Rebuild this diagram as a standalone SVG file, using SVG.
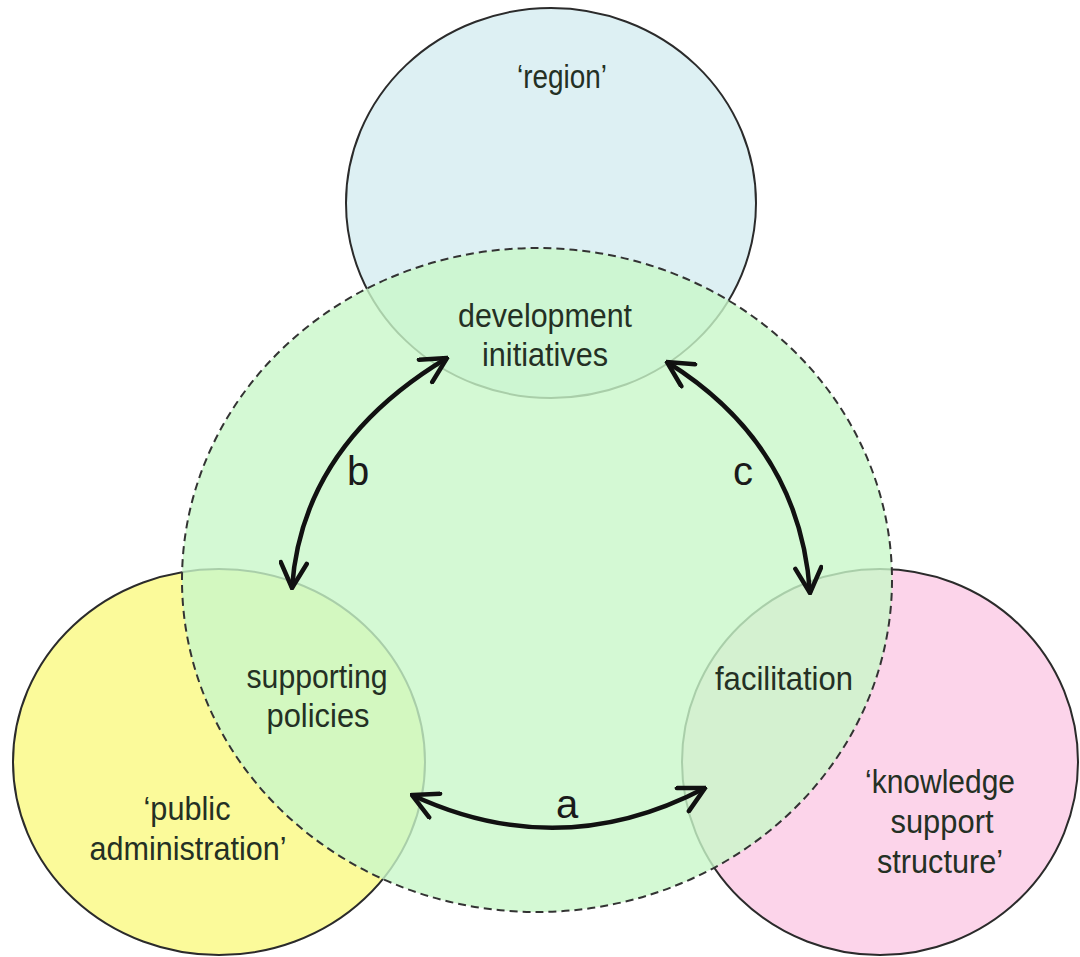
<svg xmlns="http://www.w3.org/2000/svg" width="1080" height="957" viewBox="0 0 1080 957">
  <style>
    .outer { stroke: #2b2b2b; stroke-width: 2; }
    .core { fill: #c9f7c9; fill-opacity: 0.8; stroke: #333; stroke-width: 2; stroke-dasharray: 8 5; }
    .lbl { font-family: "Liberation Sans", Arial, sans-serif; font-size: 33px; fill: #243024; text-anchor: middle; }
    .ltr { font-family: "Liberation Sans", Arial, sans-serif; font-size: 40px; fill: #1a1a1a; text-anchor: middle; }
    .arr { fill: none; stroke: #111; stroke-width: 4.5; marker-start: url(#head); marker-end: url(#head); }
  </style>
  <defs>
    <marker id="head" viewBox="0 0 30 30" markerWidth="30" markerHeight="30" refX="28" refY="15" orient="auto-start-reverse" markerUnits="userSpaceOnUse">
      <path d="M3,2 L28,15 L3,28" fill="none" stroke="#111" stroke-width="4.5" stroke-linecap="round" stroke-linejoin="miter"/>
    </marker>
  </defs>
  <rect width="1080" height="957" fill="#ffffff"/>

  <g id="region">
    <ellipse class="outer" cx="551" cy="203" rx="205" ry="195" fill="#ddf0f3"/>
  </g>
  <g id="public-administration">
    <ellipse class="outer" cx="219" cy="762" rx="206" ry="193" fill="#fbfa9a"/>
  </g>
  <g id="knowledge-support-structure">
    <ellipse class="outer" cx="880" cy="762" rx="198" ry="193" fill="#fcd4ea"/>
  </g>
  <g id="core">
    <ellipse class="core" cx="537" cy="580" rx="355" ry="332"/>
  </g>

  <g id="connectors">
    <path class="arr" d="M292,588 Q302,445 447,358"/>
    <path class="arr" d="M667,362 Q800,445 810,593"/>
    <path class="arr" d="M412,795 Q560,864 705,788"/>
    <text class="ltr" x="358" y="485">b</text>
    <text class="ltr" x="743" y="485">c</text>
    <text class="ltr" x="567" y="818">a</text>
  </g>

  <g id="labels-region">
    <text class="lbl" x="562" y="88" textLength="90" lengthAdjust="spacingAndGlyphs">‘region’</text>
  </g>
  <g id="labels-development">
    <text class="lbl" x="545" y="327" textLength="174" lengthAdjust="spacingAndGlyphs">development</text>
    <text class="lbl" x="545" y="366" textLength="126" lengthAdjust="spacingAndGlyphs">initiatives</text>
  </g>
  <g id="labels-supporting">
    <text class="lbl" x="317" y="688" textLength="141" lengthAdjust="spacingAndGlyphs">supporting</text>
    <text class="lbl" x="318" y="727" textLength="103" lengthAdjust="spacingAndGlyphs">policies</text>
  </g>
  <g id="labels-public">
    <text class="lbl" x="187" y="820" textLength="87" lengthAdjust="spacingAndGlyphs">‘public</text>
    <text class="lbl" x="188" y="860" textLength="197" lengthAdjust="spacingAndGlyphs">administration’</text>
  </g>
  <g id="labels-facilitation">
    <text class="lbl" x="784" y="690" textLength="138" lengthAdjust="spacingAndGlyphs">facilitation</text>
  </g>
  <g id="labels-knowledge">
    <text class="lbl" x="940" y="793" textLength="150" lengthAdjust="spacingAndGlyphs">‘knowledge</text>
    <text class="lbl" x="942" y="833" textLength="103" lengthAdjust="spacingAndGlyphs">support</text>
    <text class="lbl" x="940" y="873" textLength="126" lengthAdjust="spacingAndGlyphs">structure’</text>
  </g>
</svg>
